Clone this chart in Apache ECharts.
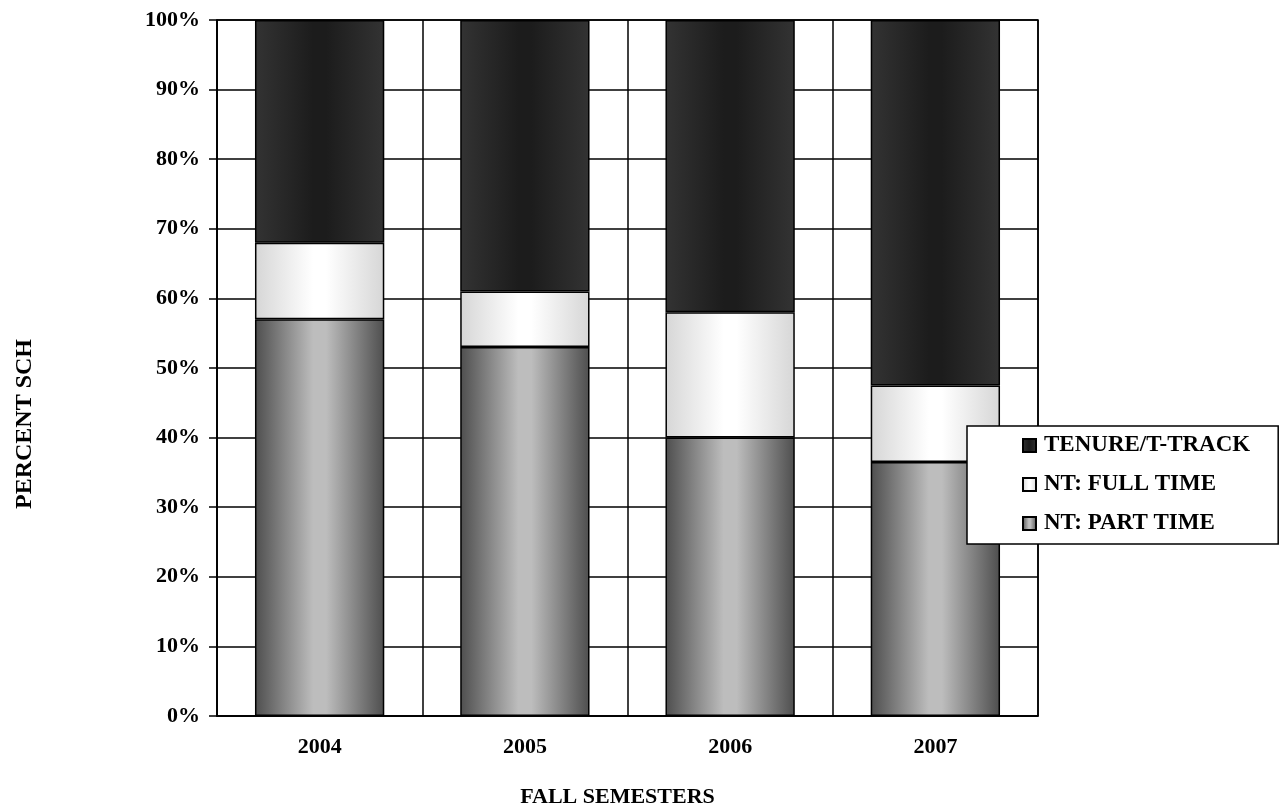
<!DOCTYPE html>
<html>
<head>
<meta charset="utf-8">
<script src="https://cdn.jsdelivr.net/npm/echarts@6/dist/echarts.min.js"></script>
<style>html,body{margin:0;padding:0;background:#fff}#c{width:1281px;height:811px}</style>
</head>
<body>
<div id="c"></div>
<script>
var categories = ['2004', '2005', '2006', '2007'];
var partTime = [57, 53, 40, 36.5];
var fullTime = [11, 8, 18, 11];
var tenure = [32, 39, 42, 52.5];
var yTicks = [0, 10, 20, 30, 40, 50, 60, 70, 80, 90, 100];

var FONT = '"Liberation Serif", "Times New Roman", serif';
function hGrad(edge, mid) {
  return new echarts.graphic.LinearGradient(0, 0, 1, 0, [
    {offset: 0, color: edge}, {offset: 0.45, color: mid}, {offset: 0.55, color: mid}, {offset: 1, color: edge}
  ]);
}
var chart = echarts.init(document.getElementById('c'));
var lbl = {fontFamily: FONT, fontWeight: 'bold', fontSize: 22, color: '#000'};
var barStyle = {borderColor: '#000', borderWidth: 1.5};
chart.setOption({
  animation: false,
  backgroundColor: '#fff',
  grid: {left: 217, right: 243, top: 20, bottom: 95, show: true, borderColor: '#000', borderWidth: 1.5,
         outerBoundsMode: 'none', containLabel: false},
  legend: {
    orient: 'vertical', left: 967, top: 426,
    data: ['TENURE/T-TRACK', 'NT: FULL TIME', 'NT: PART TIME'],
    backgroundColor: '#fff', borderColor: '#000', borderWidth: 1.5,
    padding: [8, 28, 9, 55], itemGap: 16, itemWidth: 13, itemHeight: 13,
    icon: 'rect', textStyle: Object.assign({}, lbl, {fontSize: 23, padding: [0, 0, 0, 3]})
  },
  xAxis: {
    type: 'category', data: categories,
    name: 'FALL SEMESTERS', nameLocation: 'middle', nameGap: 70,
    nameTextStyle: Object.assign({}, lbl, {padding: [0, 20, 0, 0]}),
    axisLine: {lineStyle: {color: '#000', width: 1.5}},
    axisTick: {length: 8, lineStyle: {color: '#000', width: 1.5}},
    axisLabel: Object.assign({margin: 20}, lbl),
    splitLine: {show: true, lineStyle: {color: '#000', width: 1.5}}
  },
  yAxis: {
    type: 'value', min: 0, max: 100, interval: 10,
    name: 'PERCENT SCH', nameLocation: 'middle', nameGap: 180, nameRotate: 90,
    nameTextStyle: Object.assign({}, lbl, {fontSize: 24, padding: [0, 112, 0, 0]}),
    axisLine: {show: true, lineStyle: {color: '#000', width: 1.5}},
    axisTick: {show: true, length: 8, lineStyle: {color: '#000', width: 1.5}},
    axisLabel: Object.assign({margin: 17, formatter: function (v) { return yTicks.indexOf(v) >= 0 ? v + '%' : ''; }}, lbl),
    splitLine: {show: true, lineStyle: {color: '#000', width: 1.5}}
  },
  series: [
    {name: 'NT: PART TIME', type: 'bar', stack: 's', data: partTime, barWidth: '63%',
     itemStyle: Object.assign({color: hGrad('#4e4e4e', '#bdbdbd')}, barStyle)},
    {name: 'NT: FULL TIME', type: 'bar', stack: 's', data: fullTime, barWidth: '63%',
     itemStyle: Object.assign({color: hGrad('#d6d6d6', '#ffffff')}, barStyle)},
    {name: 'TENURE/T-TRACK', type: 'bar', stack: 's', data: tenure, barWidth: '63%',
     itemStyle: Object.assign({color: hGrad('#333333', '#1c1c1c')}, barStyle)}
  ]
});
</script>
</body>
</html>
